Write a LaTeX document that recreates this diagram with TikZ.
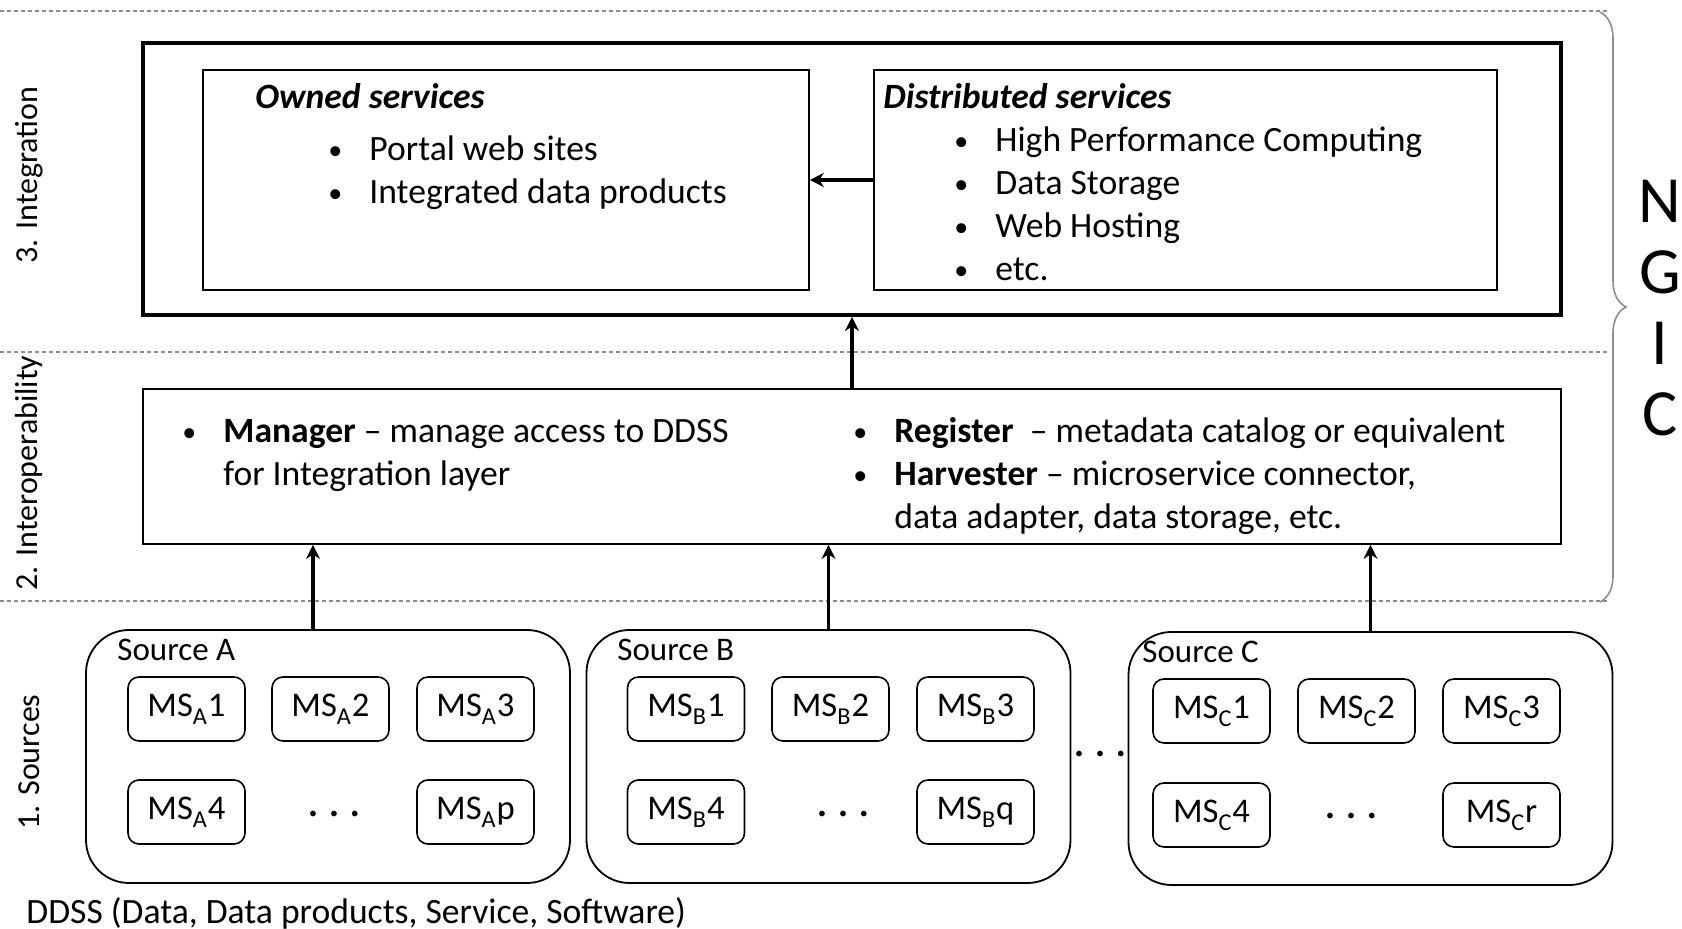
\documentclass[tikz,border=0pt]{standalone}
\usepackage{fontspec}
\setmainfont{Carlito}
\usetikzlibrary{positioning,arrows.meta,decorations.pathreplacing}
\definecolor{mGrey}{HTML}{8C8C8C}
\tikzset{
  sepline/.style={draw=mGrey, line width=0.6pt, dash pattern=on 2pt off 1.5pt},
  layerbox/.style={draw=black, line width=0.9pt, minimum width=709pt, inner sep=0pt},
  svcbox/.style={draw=black, line width=0.8pt, minimum height=110pt, inner sep=0pt},
  srcbox/.style={draw=black, line width=0.9pt, rounded corners=21.5pt, minimum width=242pt, minimum height=126.5pt, inner sep=0pt},
  msbox/.style={draw=black, line width=0.8pt, rounded corners=5.5pt, minimum width=58.5pt, minimum height=32pt, inner sep=0pt, font=\fontsize{17.3}{20}\selectfont},
  layerlabel/.style={rotate=90, inner sep=0pt, font=\fontsize{16}{19}\selectfont},
  txt/.style={anchor=base west, inner sep=0pt},
  flow/.style={-{Stealth[length=7pt,width=7pt]}, line width=1.8pt},
}
\newcommand{\bitem}{\makebox[21.5pt][l]{\hspace{1pt}\raisebox{0.6pt}{\fontsize{14}{14}\selectfont\textbullet}}}
\newcommand{\bcont}{\hspace*{21.5pt}}
\newcommand{\blist}[1]{\begin{tabular}[t]{@{}l@{}}#1\end{tabular}}
\newcommand{\msdots}{{\fontsize{8}{8}\selectfont\textbullet\hspace{6.5pt}\textbullet\hspace{6.5pt}\textbullet}}
\newcommand{\msnode}[5]{%
 \node[msbox] (#3) at (#1,#2) {MS\raisebox{-1.5pt}{\textsubscript{#4}}#5};}

\begin{document}
\begin{tikzpicture}[x=0.5pt, y=-0.5pt, font=\fontsize{17.8}{21.5}\selectfont]
\useasboundingbox (0,0) rectangle (1682,929);
% layer separators and brace
\draw[sepline] (0,11) -- (1608,11);
\draw[sepline] (0,352) -- (1608,352);
\draw[sepline] (0,601) -- (1608,601);
\draw[mGrey, line width=0.8pt, decorate, decoration={brace, amplitude=13pt}] (1600,12) -- (1600,602);
\node[font=\fontsize{33}{35.5}\selectfont, align=center, inner sep=0pt] (ngic) at (1660,308) {N\\G\\I\\C};

% layer labels
\node[layerlabel] (lint) at (29,175) {3. Integration};
\node[layerlabel] (lintop) at (29,473) {2. Interoperability};
\node[layerlabel] (lsrc) at (29,762) {1. Sources};

% integration layer
\node[layerbox, line width=2pt, minimum height=136pt] (integ) at (852,179) {};
\node[svcbox, minimum width=303pt] (owned) at (506,180) {};
\node[svcbox, minimum width=311.5pt] (distr) at (1185.5,180) {};
\node[txt, font=\fontsize{17.8}{21.5}\selectfont\bfseries\itshape] (ownedtitle) at (255,109) {Owned services};
\node[txt] (ownedlist) at (326,161) {\blist{\bitem Portal web sites\\ \bitem Integrated data products}};
\node[txt, font=\fontsize{17.8}{21.5}\selectfont\bfseries\itshape] (distrtitle) at (883,109) {Distributed services};
\node[txt] (distrlist) at (952,152) {\blist{\bitem High Performance Computing\\ \bitem Data Storage\\ \bitem Web Hosting\\ \bitem etc.}};
\draw[flow] (distr.west) -- (owned.east);

% interoperability layer
\node[layerbox, minimum height=77.5pt] (interop) at (852,466.5) {};
\node[txt] (mgr) at (180,443) {\blist{\bitem\textbf{Manager} -- manage access to DDSS\\ \bcont for Integration layer}};
\node[txt] (reg) at (851,443) {\blist{\bitem\textbf{Register}\ \ -- metadata catalog or equivalent\\ \bitem\textbf{Harvester} -- microservice connector,\\ \bcont data adapter, data storage, etc.}};
\draw[flow] (interop.north) -- (integ.south);

% sources layer
\node[srcbox] (srcA) at (328,756.5) {};
\node[srcbox] (srcB) at (828.5,756.5) {};
\node[srcbox] (srcC) at (1370.5,758.5) {};
\node[txt, font=\fontsize{16.5}{20}\selectfont] (srcAname) at (117,661) {Source A};
\node[txt, font=\fontsize{16.5}{20}\selectfont] (srcBname) at (617,661) {Source B};
\node[txt, font=\fontsize{16.5}{20}\selectfont] (srcCname) at (1142,663) {Source C};

\msnode{186.5}{709}{msa1}{A}{1}
\msnode{330.5}{709}{msa2}{A}{2}
\msnode{475.5}{709}{msa3}{A}{3}
\msnode{186.5}{812}{msa4}{A}{4}
\msnode{475.5}{812}{msap}{A}{p}
\node[inner sep=0pt] (dotsA) at (334,815) {\msdots};

\msnode{686}{709}{msb1}{B}{1}
\msnode{830.5}{709}{msb2}{B}{2}
\msnode{975.5}{709}{msb3}{B}{3}
\msnode{686}{812}{msb4}{B}{4}
\msnode{975.5}{812}{msbq}{B}{q}
\node[inner sep=0pt] (dotsB) at (843,815) {\msdots};

\msnode{1211.5}{711}{msc1}{C}{1}
\msnode{1356.5}{711}{msc2}{C}{2}
\msnode{1501.5}{711}{msc3}{C}{3}
\msnode{1211.5}{815}{msc4}{C}{4}
\msnode{1501.5}{815}{mscr}{C}{r}
\node[inner sep=0pt] (dotsC) at (1351,817) {\msdots};

\node[inner sep=0pt] (dotsBC) at (1100,755) {\msdots};

\draw[flow] ([xshift=-7.5pt]srcA.north) -- ([xshift=-7.5pt]srcA.north |- interop.south);
\draw[flow] (srcB.north) -- (srcB.north |- interop.south);
\draw[flow] (srcC.north) -- (srcC.north |- interop.south);

\node[txt] (ddss) at (26,923) {DDSS (Data, Data products, Service, Software)};
\end{tikzpicture}
\end{document}
